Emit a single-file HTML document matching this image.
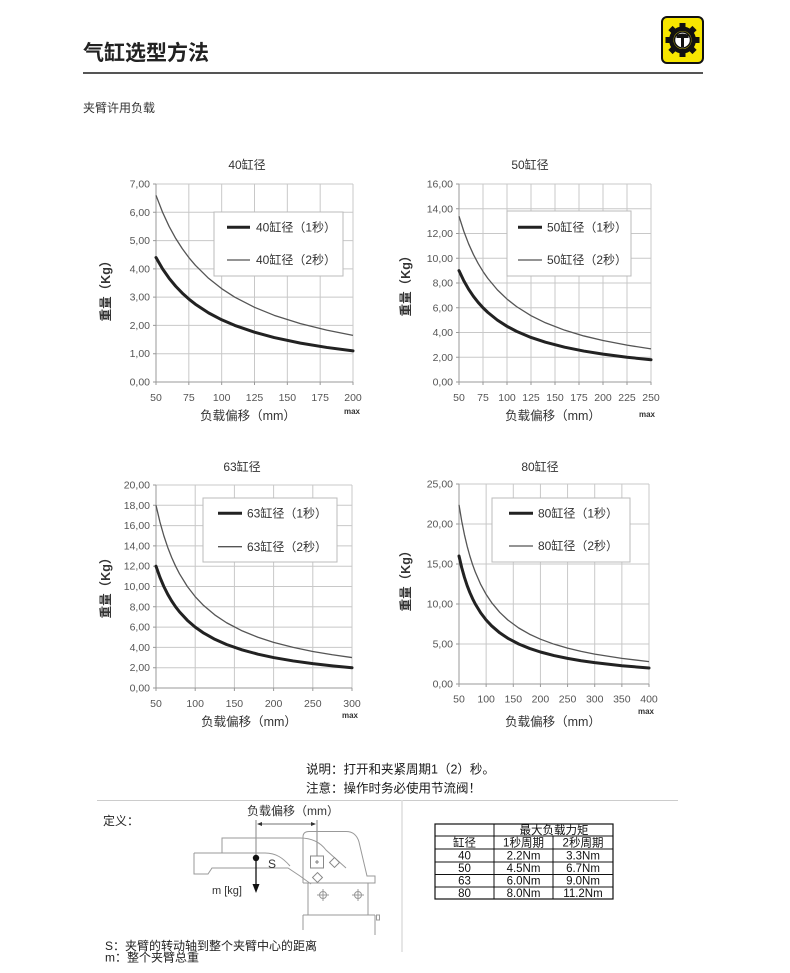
<!DOCTYPE html>
<html><head><meta charset="utf-8">
<style>
html,body{margin:0;padding:0;background:#fff;}
svg{display:block;}
text{font-family:"Liberation Sans","Noto Sans CJK SC",sans-serif;}
.tk{font-size:10.5px;fill:#555;}
.tt{font-size:12px;fill:#333;}
.lg{font-size:12px;fill:#333;}
.ax{font-size:12.5px;fill:#333;}
.yt{font-size:12.5px;fill:#333;font-weight:bold;}
.mx{font-size:8px;fill:#333;font-weight:bold;}
.gr{stroke:#c8c8c8;stroke-width:1;fill:none;}
.fr{stroke:#999;stroke-width:1;fill:none;}
.c1{fill:none;stroke:#222;stroke-width:3;stroke-linejoin:round;stroke-linecap:round;}
.c2{fill:none;stroke:#555;stroke-width:1.3;stroke-linejoin:round;}
.tb{font-family:"DejaVu Sans","Noto Sans CJK SC",sans-serif;font-size:11.5px;fill:#111;}
.dg{stroke:#999;stroke-width:1;fill:none;}
</style></head>
<body>
<svg width="790" height="973" viewBox="0 0 790 973" xmlns="http://www.w3.org/2000/svg">
<rect width="790" height="973" fill="#fff"/>

<!-- Header -->
<text x="83" y="60" style="font-size:21px;font-weight:bold;fill:#222;">气缸选型方法</text>
<line x1="83" y1="73" x2="703" y2="73" stroke="#555" stroke-width="2"/>
<text x="83" y="112" style="font-size:12px;fill:#333;">夹臂许用负载</text>

<!-- Logo -->
<rect x="662" y="17" width="41" height="46" rx="5" fill="#f7e600" stroke="#111" stroke-width="2"/>
<g transform="translate(682.5,40)" fill="#111">
  <circle r="13.5"/>
  <rect x="-3" y="-17" width="6" height="34"/>
  <rect x="-3" y="-17" width="6" height="34" transform="rotate(45)"/>
  <rect x="-3" y="-17" width="6" height="34" transform="rotate(90)"/>
  <rect x="-3" y="-17" width="6" height="34" transform="rotate(135)"/>
  <circle r="9" fill="#f7e600"/>
  <circle r="8" fill="#fff" stroke="#111" stroke-width="1.5"/>
  <path d="M-6,-5 Q0,-8 6,-5 L6,-2 L1.5,-2 L1.5,7 L-1.5,7 L-1.5,-2 L-6,-2 Z"/>
</g>

<!-- ============ CHART 1 ============ -->
<text class="tt" x="247" y="169" text-anchor="middle">40缸径</text>
<g>
  <line class="gr" x1="188.83" y1="184" x2="188.83" y2="382"/>
  <line class="gr" x1="221.67" y1="184" x2="221.67" y2="382"/>
  <line class="gr" x1="254.5" y1="184" x2="254.5" y2="382"/>
  <line class="gr" x1="287.33" y1="184" x2="287.33" y2="382"/>
  <line class="gr" x1="320.17" y1="184" x2="320.17" y2="382"/>
  <line class="gr" x1="353" y1="184" x2="353" y2="382"/>
  <line class="gr" x1="156" y1="184" x2="353" y2="184"/>
  <line class="gr" x1="156" y1="212.29" x2="353" y2="212.29"/>
  <line class="gr" x1="156" y1="240.57" x2="353" y2="240.57"/>
  <line class="gr" x1="156" y1="268.86" x2="353" y2="268.86"/>
  <line class="gr" x1="156" y1="297.14" x2="353" y2="297.14"/>
  <line class="gr" x1="156" y1="325.43" x2="353" y2="325.43"/>
  <line class="gr" x1="156" y1="353.71" x2="353" y2="353.71"/>
  <path class="fr" d="M156,184 V382 H353 M153,184 H156 M153,212.29 H156 M153,240.57 H156 M153,268.86 H156 M153,297.14 H156 M153,325.43 H156 M153,353.71 H156 M153,382 H156 M156,382 V385 M188.83,382 V385 M221.67,382 V385 M254.5,382 V385 M287.33,382 V385 M320.17,382 V385 M353,382 V385"/>
  <g class="tk" text-anchor="end">
    <text x="150" y="187.5">7,00</text><text x="150" y="215.8">6,00</text><text x="150" y="244.1">5,00</text><text x="150" y="272.4">4,00</text><text x="150" y="300.6">3,00</text><text x="150" y="328.9">2,00</text><text x="150" y="357.2">1,00</text><text x="150" y="385.5">0,00</text>
  </g>
  <g class="tk" text-anchor="middle">
    <text x="156" y="401">50</text><text x="188.83" y="401">75</text><text x="221.67" y="401">100</text><text x="254.5" y="401">125</text><text x="287.33" y="401">150</text><text x="320.17" y="401">175</text><text x="353" y="401">200</text>
  </g>
  <g transform="translate(156,382) scale(1.31333,-28.2857) translate(-50,0)">
    <polyline class="c2" vector-effect="non-scaling-stroke" points="50,6.6 55,6.0 60,5.5 65,5.077 70,4.714 75,4.4 80,4.125 90,3.667 100,3.3 110,3.0 125,2.64 140,2.357 160,2.0625 180,1.833 200,1.65"/>
    <polyline class="c1" vector-effect="non-scaling-stroke" points="50,4.4 55,4.0 60,3.667 65,3.385 70,3.143 75,2.933 80,2.75 90,2.444 100,2.2 110,2.0 125,1.76 140,1.571 160,1.375 180,1.222 200,1.1"/>
  </g>
  <rect x="214" y="212" width="129" height="64" fill="#fff" stroke="#bbb" stroke-width="1"/>
  <line x1="227" y1="227.3" x2="250" y2="227.3" stroke="#222" stroke-width="3"/>
  <text class="lg" x="256" y="231.5">40缸径（1秒）</text>
  <line x1="227" y1="260" x2="250" y2="260" stroke="#555" stroke-width="1.3"/>
  <text class="lg" x="256" y="264.2">40缸径（2秒）</text>
  <text class="ax" x="248" y="420" text-anchor="middle">负载偏移（mm）</text>
  <text class="mx" x="352" y="414" text-anchor="middle">max</text>
  <text class="yt" transform="translate(110,288) rotate(-90)" text-anchor="middle">重量（Kg）</text>
</g>

<!-- ============ CHART 2 ============ -->
<text class="tt" x="530" y="169" text-anchor="middle">50缸径</text>
<g>
  <line class="gr" x1="483" y1="184" x2="483" y2="382"/>
  <line class="gr" x1="507" y1="184" x2="507" y2="382"/>
  <line class="gr" x1="531" y1="184" x2="531" y2="382"/>
  <line class="gr" x1="555" y1="184" x2="555" y2="382"/>
  <line class="gr" x1="579" y1="184" x2="579" y2="382"/>
  <line class="gr" x1="603" y1="184" x2="603" y2="382"/>
  <line class="gr" x1="627" y1="184" x2="627" y2="382"/>
  <line class="gr" x1="651" y1="184" x2="651" y2="382"/>
  <line class="gr" x1="459" y1="184" x2="651" y2="184"/>
  <line class="gr" x1="459" y1="208.75" x2="651" y2="208.75"/>
  <line class="gr" x1="459" y1="233.5" x2="651" y2="233.5"/>
  <line class="gr" x1="459" y1="258.25" x2="651" y2="258.25"/>
  <line class="gr" x1="459" y1="283" x2="651" y2="283"/>
  <line class="gr" x1="459" y1="307.75" x2="651" y2="307.75"/>
  <line class="gr" x1="459" y1="332.5" x2="651" y2="332.5"/>
  <line class="gr" x1="459" y1="357.25" x2="651" y2="357.25"/>
  <path class="fr" d="M459,184 V382 H651 M456,184 H459 M456,208.75 H459 M456,233.5 H459 M456,258.25 H459 M456,283 H459 M456,307.75 H459 M456,332.5 H459 M456,357.25 H459 M456,382 H459 M459,382 V385 M483,382 V385 M507,382 V385 M531,382 V385 M555,382 V385 M579,382 V385 M603,382 V385 M627,382 V385 M651,382 V385"/>
  <g class="tk" text-anchor="end">
    <text x="453" y="187.5">16,00</text><text x="453" y="212.3">14,00</text><text x="453" y="237">12,00</text><text x="453" y="261.8">10,00</text><text x="453" y="286.5">8,00</text><text x="453" y="311.3">6,00</text><text x="453" y="336">4,00</text><text x="453" y="360.8">2,00</text><text x="453" y="385.5">0,00</text>
  </g>
  <g class="tk" text-anchor="middle">
    <text x="459" y="401">50</text><text x="483" y="401">75</text><text x="507" y="401">100</text><text x="531" y="401">125</text><text x="555" y="401">150</text><text x="579" y="401">175</text><text x="603" y="401">200</text><text x="627" y="401">225</text><text x="651" y="401">250</text>
  </g>
  <g transform="translate(459,382) scale(0.96,-12.375) translate(-50,0)">
    <polyline class="c2" vector-effect="non-scaling-stroke" points="50,13.4 55,12.182 60,11.167 65,10.308 70,9.571 75,8.933 80,8.375 90,7.444 100,6.7 110,6.091 125,5.36 140,4.786 160,4.1875 180,3.722 200,3.35 225,2.978 250,2.68"/>
    <polyline class="c1" vector-effect="non-scaling-stroke" points="50,9.0 55,8.182 60,7.5 65,6.923 70,6.429 75,6.0 80,5.625 90,5.0 100,4.5 110,4.091 125,3.6 140,3.214 160,2.8125 180,2.5 200,2.25 225,2.0 250,1.8"/>
  </g>
  <rect x="507" y="211" width="124" height="65" fill="#fff" stroke="#bbb" stroke-width="1"/>
  <line x1="518" y1="227.3" x2="542" y2="227.3" stroke="#222" stroke-width="3"/>
  <text class="lg" x="547" y="231.5">50缸径（1秒）</text>
  <line x1="518" y1="260" x2="542" y2="260" stroke="#555" stroke-width="1.3"/>
  <text class="lg" x="547" y="264.2">50缸径（2秒）</text>
  <text class="ax" x="553" y="420" text-anchor="middle">负载偏移（mm）</text>
  <text class="mx" x="647" y="417" text-anchor="middle">max</text>
  <text class="yt" transform="translate(410,283) rotate(-90)" text-anchor="middle">重量（Kg）</text>
</g>

<!-- ============ CHART 3 ============ -->
<text class="tt" x="242" y="471" text-anchor="middle">63缸径</text>
<g>
  <line class="gr" x1="195.2" y1="485" x2="195.2" y2="688"/>
  <line class="gr" x1="234.4" y1="485" x2="234.4" y2="688"/>
  <line class="gr" x1="273.6" y1="485" x2="273.6" y2="688"/>
  <line class="gr" x1="312.8" y1="485" x2="312.8" y2="688"/>
  <line class="gr" x1="352" y1="485" x2="352" y2="688"/>
  <line class="gr" x1="156" y1="485" x2="352" y2="485"/>
  <line class="gr" x1="156" y1="505.3" x2="352" y2="505.3"/>
  <line class="gr" x1="156" y1="525.6" x2="352" y2="525.6"/>
  <line class="gr" x1="156" y1="545.9" x2="352" y2="545.9"/>
  <line class="gr" x1="156" y1="566.2" x2="352" y2="566.2"/>
  <line class="gr" x1="156" y1="586.5" x2="352" y2="586.5"/>
  <line class="gr" x1="156" y1="606.8" x2="352" y2="606.8"/>
  <line class="gr" x1="156" y1="627.1" x2="352" y2="627.1"/>
  <line class="gr" x1="156" y1="647.4" x2="352" y2="647.4"/>
  <line class="gr" x1="156" y1="667.7" x2="352" y2="667.7"/>
  <path class="fr" d="M156,485 V688 H352 M153,485 H156 M153,505.3 H156 M153,525.6 H156 M153,545.9 H156 M153,566.2 H156 M153,586.5 H156 M153,606.8 H156 M153,627.1 H156 M153,647.4 H156 M153,667.7 H156 M153,688 H156 M156,688 V691 M195.2,688 V691 M234.4,688 V691 M273.6,688 V691 M312.8,688 V691 M352,688 V691"/>
  <g class="tk" text-anchor="end">
    <text x="150" y="488.5">20,00</text><text x="150" y="508.8">18,00</text><text x="150" y="529.1">16,00</text><text x="150" y="549.4">14,00</text><text x="150" y="569.7">12,00</text><text x="150" y="590">10,00</text><text x="150" y="610.3">8,00</text><text x="150" y="630.6">6,00</text><text x="150" y="650.9">4,00</text><text x="150" y="671.2">2,00</text><text x="150" y="691.5">0,00</text>
  </g>
  <g class="tk" text-anchor="middle">
    <text x="156" y="707">50</text><text x="195.2" y="707">100</text><text x="234.4" y="707">150</text><text x="273.6" y="707">200</text><text x="312.8" y="707">250</text><text x="352" y="707">300</text>
  </g>
  <g transform="translate(156,688) scale(0.784,-10.15) translate(-50,0)">
    <polyline class="c2" vector-effect="non-scaling-stroke" points="50,18 55,16.364 60,15 65,13.846 70,12.857 75,12 80,11.25 90,10 100,9 110,8.182 125,7.2 140,6.429 160,5.625 180,5 200,4.5 225,4 250,3.6 275,3.273 300,3"/>
    <polyline class="c1" vector-effect="non-scaling-stroke" points="50,12 55,10.909 60,10 65,9.231 70,8.571 75,8 80,7.5 90,6.667 100,6 110,5.455 125,4.8 140,4.286 160,3.75 180,3.333 200,3 225,2.667 250,2.4 275,2.182 300,2"/>
  </g>
  <rect x="203" y="498" width="134" height="64" fill="#fff" stroke="#bbb" stroke-width="1"/>
  <line x1="218" y1="513.3" x2="242" y2="513.3" stroke="#222" stroke-width="3"/>
  <text class="lg" x="247" y="517.5">63缸径（1秒）</text>
  <line x1="218" y1="546.7" x2="242" y2="546.7" stroke="#555" stroke-width="1.3"/>
  <text class="lg" x="247" y="550.9">63缸径（2秒）</text>
  <text class="ax" x="249" y="726" text-anchor="middle">负载偏移（mm）</text>
  <text class="mx" x="350" y="718" text-anchor="middle">max</text>
  <text class="yt" transform="translate(110,585) rotate(-90)" text-anchor="middle">重量（Kg）</text>
</g>

<!-- ============ CHART 4 ============ -->
<text class="tt" x="540" y="471" text-anchor="middle">80缸径</text>
<g>
  <line class="gr" x1="486.14" y1="484" x2="486.14" y2="684"/>
  <line class="gr" x1="513.29" y1="484" x2="513.29" y2="684"/>
  <line class="gr" x1="540.43" y1="484" x2="540.43" y2="684"/>
  <line class="gr" x1="567.57" y1="484" x2="567.57" y2="684"/>
  <line class="gr" x1="594.71" y1="484" x2="594.71" y2="684"/>
  <line class="gr" x1="621.86" y1="484" x2="621.86" y2="684"/>
  <line class="gr" x1="649" y1="484" x2="649" y2="684"/>
  <line class="gr" x1="459" y1="484" x2="649" y2="484"/>
  <line class="gr" x1="459" y1="524" x2="649" y2="524"/>
  <line class="gr" x1="459" y1="564" x2="649" y2="564"/>
  <line class="gr" x1="459" y1="604" x2="649" y2="604"/>
  <line class="gr" x1="459" y1="644" x2="649" y2="644"/>
  <path class="fr" d="M459,484 V684 H649 M456,484 H459 M456,524 H459 M456,564 H459 M456,604 H459 M456,644 H459 M456,684 H459 M459,684 V687 M486.14,684 V687 M513.29,684 V687 M540.43,684 V687 M567.57,684 V687 M594.71,684 V687 M621.86,684 V687 M649,684 V687"/>
  <g class="tk" text-anchor="end">
    <text x="453" y="487.5">25,00</text><text x="453" y="527.5">20,00</text><text x="453" y="567.5">15,00</text><text x="453" y="607.5">10,00</text><text x="453" y="647.5">5,00</text><text x="453" y="687.5">0,00</text>
  </g>
  <g class="tk" text-anchor="middle">
    <text x="459" y="702.5">50</text><text x="486.14" y="702.5">100</text><text x="513.29" y="702.5">150</text><text x="540.43" y="702.5">200</text><text x="567.57" y="702.5">250</text><text x="594.71" y="702.5">300</text><text x="621.86" y="702.5">350</text><text x="649" y="702.5">400</text>
  </g>
  <g transform="translate(459,684) scale(0.542857,-8) translate(-50,0)">
    <polyline class="c2" vector-effect="non-scaling-stroke" points="50,22.4 55,20.364 60,18.667 65,17.231 70,16 75,14.933 80,14 90,12.444 100,11.2 110,10.182 125,8.96 140,8 160,7 180,6.222 200,5.6 225,4.978 250,4.48 275,4.073 300,3.733 350,3.2 400,2.8"/>
    <polyline class="c1" vector-effect="non-scaling-stroke" points="50,16 55,14.545 60,13.333 65,12.308 70,11.429 75,10.667 80,10 90,8.889 100,8 110,7.273 125,6.4 140,5.714 160,5 180,4.444 200,4 225,3.556 250,3.2 275,2.909 300,2.667 350,2.286 400,2"/>
  </g>
  <rect x="492" y="498" width="138" height="64" fill="#fff" stroke="#bbb" stroke-width="1"/>
  <line x1="509" y1="513.3" x2="533" y2="513.3" stroke="#222" stroke-width="3"/>
  <text class="lg" x="538" y="517.5">80缸径（1秒）</text>
  <line x1="509" y1="546" x2="533" y2="546" stroke="#555" stroke-width="1.3"/>
  <text class="lg" x="538" y="550.2">80缸径（2秒）</text>
  <text class="ax" x="553" y="726" text-anchor="middle">负载偏移（mm）</text>
  <text class="mx" x="646" y="714" text-anchor="middle">max</text>
  <text class="yt" transform="translate(410,578) rotate(-90)" text-anchor="middle">重量（Kg）</text>
</g>

<!-- Notes -->
<text x="306" y="773.5" style="font-size:12.5px;fill:#1a1a1a;">说明：打开和夹紧周期1（2）秒。</text>
<text x="306" y="792.5" style="font-size:12.5px;fill:#1a1a1a;">注意：操作时务必使用节流阀！</text>

<!-- Dividers -->
<line x1="97" y1="800.5" x2="678" y2="800.5" stroke="#ccc" stroke-width="1"/>
<line x1="402" y1="800" x2="402" y2="952" stroke="#ddd" stroke-width="1.5"/>

<!-- Definition diagram -->
<text x="103" y="825" style="font-size:12px;fill:#222;">定义：</text>
<text x="247" y="815" style="font-size:12px;fill:#333;">负载偏移（mm）</text>
<g>
  <line x1="256" y1="820" x2="256" y2="858" stroke="#666" stroke-width="0.8"/>
  <line x1="317" y1="820" x2="317" y2="862" stroke="#666" stroke-width="0.8"/>
  <line x1="258" y1="824" x2="315" y2="824" stroke="#444" stroke-width="0.8"/>
  <path d="M257,824 L262,822 L262,826 Z M316,824 L311,822 L311,826 Z" fill="#333"/>
  <!-- arm -->
  <path class="dg" d="M194,853 H222 V838 H300 C312,838 320,842 326,850 L346,868"/>
  <path class="dg" d="M194,853 V874 H208 L212,868 H288 L300,876 L311,884"/>
  <path class="dg" d="M222,853 H265 C276,853 283,858 290,866"/>
  <!-- body -->
  <path class="dg" d="M303,883 V837 Q303,831.5 309,831.5 H346 Q356,831.5 359,842 L367,876 H375 V883 H303"/>
  <rect class="dg" x="308" y="883" width="60" height="32"/>
  <path class="dg" d="M303,915 H375 M303,915 V930 M375,915 V935"/>
  <rect class="dg" x="376.5" y="915" width="3" height="5"/>
  <circle class="dg" cx="323" cy="895" r="3.5"/>
  <path class="dg" d="M317,895 H329 M323,889 V901"/>
  <circle class="dg" cx="358" cy="895" r="3.5"/>
  <path class="dg" d="M352,895 H364 M358,889 V901"/>
  <!-- pivot -->
  <rect x="310.5" y="856" width="13" height="12" fill="#fff" stroke="#888" stroke-width="1"/>
  <path d="M315,862 H319 M317,860 V864" stroke="#666" stroke-width="0.8"/>
  <rect x="331" y="859" width="7" height="7" fill="#fff" stroke="#888" stroke-width="1" transform="rotate(45 334.5 862.5)"/>
  <rect x="314" y="874" width="7" height="7" fill="#fff" stroke="#888" stroke-width="1" transform="rotate(45 317.5 877.5)"/>
  <!-- force -->
  <circle cx="256" cy="858" r="3.2" fill="#111"/>
  <line x1="256" y1="858" x2="256" y2="886" stroke="#111" stroke-width="1.3"/>
  <path d="M252.5,884 L256,893 L259.5,884 Z" fill="#111"/>
  <text x="268" y="868" style="font-size:12px;fill:#333;">S</text>
  <text x="212" y="894" style="font-size:11px;fill:#333;">m [kg]</text>
</g>
<text x="105" y="950" style="font-size:12px;fill:#222;">S：夹臂的转动轴到整个夹臂中心的距离</text>
<text x="105" y="961.5" style="font-size:12px;fill:#222;">m：整个夹臂总重</text>

<!-- Table -->
<g>
  <rect x="435" y="824" width="178" height="75" fill="#fff" stroke="#111" stroke-width="1.2"/>
  <path d="M435,836 H613 M435,849 H613 M435,862 H613 M435,874.5 H613 M435,887 H613 M494,824 V899 M553,836 V899" stroke="#111" stroke-width="1" fill="none"/>
  <g class="tb" text-anchor="middle">
    <text x="554" y="833.8">最大负载力矩</text>
    <text x="464.5" y="846.5">缸径</text>
    <text x="523.5" y="846.5">1秒周期</text>
    <text x="583" y="846.5">2秒周期</text>
    <text x="464.5" y="859.5">40</text><text x="523.5" y="859.5">2.2Nm</text><text x="583" y="859.5">3.3Nm</text>
    <text x="464.5" y="872">50</text><text x="523.5" y="872">4.5Nm</text><text x="583" y="872">6.7Nm</text>
    <text x="464.5" y="884.5">63</text><text x="523.5" y="884.5">6.0Nm</text><text x="583" y="884.5">9.0Nm</text>
    <text x="464.5" y="897">80</text><text x="523.5" y="897">8.0Nm</text><text x="583" y="897">11.2Nm</text>
  </g>
</g>
</svg>
</body></html>
